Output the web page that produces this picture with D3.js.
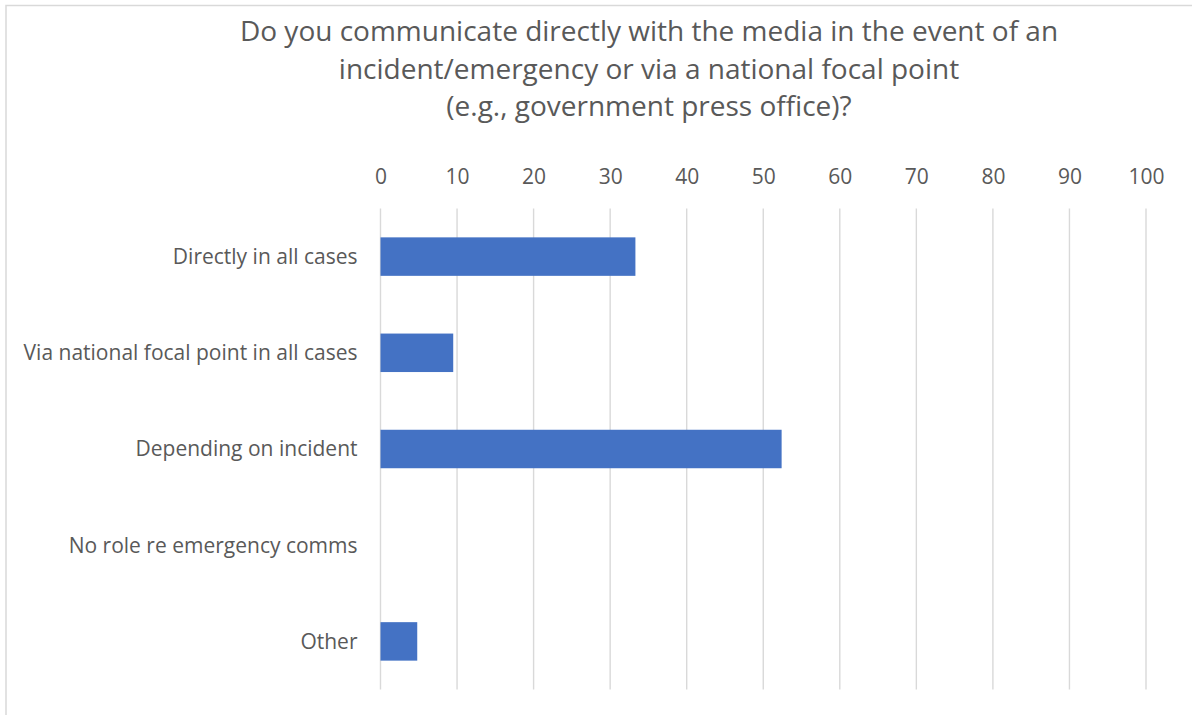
<!DOCTYPE html>
<html>
<head>
<meta charset="utf-8">
<script src="https://cdn.jsdelivr.net/npm/d3@7"></script>
<style>
  html, body { margin: 0; padding: 0; background: #fff; }
  svg { display: block; }
  text { font-family: "Open Sans", "Noto Sans", sans-serif; fill: #595959; }
</style>
</head>
<body>
<svg id="chart" width="1192" height="715"></svg>
<script>
// Survey answers (share of respondents, %)
const categories = [
  "Directly in all cases",
  "Via national focal point in all cases",
  "Depending on incident",
  "No role re emergency comms",
  "Other"
];
const values = [33.3, 9.5, 52.4, 0, 4.8];
const tickValues = [0, 10, 20, 30, 40, 50, 60, 70, 80, 90, 100];
const titleLines = [
  "Do you communicate directly with the media in the event of an",
  "incident/emergency or via a national focal point",
  "(e.g., government press office)?"
];

const W = 1192, H = 715;
const plot = { left: 380.5, right: 1146, top: 208.5, bottom: 689.5 };

const svg = d3.select("#chart");

// chart area outline (only top and left edges fall inside the frame)
svg.append("rect")
  .attr("x", 6).attr("y", 5.5)
  .attr("width", W + 20).attr("height", H + 20)
  .attr("fill", "#fff")
  .attr("stroke", "#d9d9d9")
  .attr("stroke-width", 1.5);

const x = d3.scaleLinear().domain([0, 100]).range([plot.left, plot.right]);
const y = d3.scaleBand().domain(categories)
  .range([plot.top, plot.bottom])
  .paddingInner(0.6).paddingOuter(0.3);

// title
svg.append("g").selectAll("text")
  .data(titleLines)
  .join("text")
  .attr("x", 649)
  .attr("y", (d, i) => 41 + i * 37.5)
  .attr("text-anchor", "middle")
  .style("font-size", "28px")
  .text(d => d);

// vertical gridlines
svg.append("g").selectAll("line")
  .data(tickValues)
  .join("line")
  .attr("x1", d => x(d)).attr("x2", d => x(d))
  .attr("y1", plot.top).attr("y2", plot.bottom)
  .attr("stroke", "#d9d9d9")
  .attr("stroke-width", 1.4);

// value axis on top
const xAxis = svg.append("g")
  .attr("transform", `translate(0,${plot.top - 24.5})`)
  .call(d3.axisTop(x).tickValues(tickValues).tickSize(0).tickPadding(0));
xAxis.select(".domain").remove();
xAxis.selectAll("text")
  .style("font-size", "21px")
  .attr("fill", "#595959");

// category axis
const yAxis = svg.append("g")
  .attr("transform", `translate(${plot.left - 23},0)`)
  .call(d3.axisLeft(y).tickSize(0).tickPadding(0));
yAxis.select(".domain").remove();
yAxis.selectAll("text")
  .style("font-size", "21px")
  .attr("fill", "#595959")
  .attr("dy", "0.35em");

// bars
svg.append("g").selectAll("rect")
  .data(values.map((v, i) => ({ cat: categories[i], v })))
  .join("rect")
  .attr("x", x(0))
  .attr("y", d => y(d.cat))
  .attr("width", d => x(d.v) - x(0))
  .attr("height", y.bandwidth())
  .attr("fill", "#4472c4");
</script>
</body>
</html>
